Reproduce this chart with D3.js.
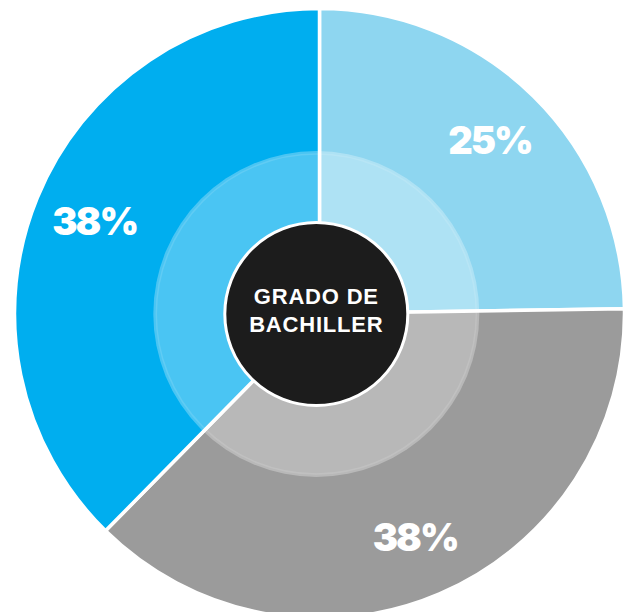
<!DOCTYPE html>
<html>
<head>
<meta charset="utf-8">
<script src="https://cdn.jsdelivr.net/npm/d3@7"></script>
<style>
  html, body { margin: 0; padding: 0; background: #ffffff; }
  svg { display: block; }
</style>
</head>
<body>
<svg id="chart" width="627" height="612"></svg>
<script>
const categories = ["Segmento A", "Segmento B", "Segmento C"];
const values = [25, 38, 38];
const labels = ["25%", "38%", "38%"];
const colors = ["#8ed6f0", "#9b9b9b", "#00aeef"];
const centerTitle = ["GRADO DE", "BACHILLER"];

const svg = d3.select("#chart");
const cx = 319.5, cy = 313.5;
const outerR = 305;

const g = svg.append("g").attr("transform", `translate(${cx},${cy})`);

const pie = d3.pie().sort(null).value(d => d.value);
const data = pie(categories.map((c, i) => ({ name: c, value: values[i], label: labels[i], color: colors[i] })));

const arc = d3.arc().innerRadius(0).outerRadius(outerR);
const labelArc = d3.arc().innerRadius(243).outerRadius(243);

g.selectAll("path.slice")
  .data(data)
  .join("path")
  .attr("class", "slice")
  .attr("d", arc)
  .attr("fill", d => d.data.color)
  .attr("stroke", "#ffffff")
  .attr("stroke-width", 3.5)
  .attr("stroke-linejoin", "miter");

// translucent inner ring
const ox = 316.3 - cx, oy = 314 - cy;
g.append("circle")
  .attr("cx", ox).attr("cy", oy).attr("r", 163)
  .attr("fill", "#ffffff").attr("fill-opacity", 0.29);
g.append("circle")
  .attr("cx", ox).attr("cy", oy).attr("r", 160)
  .attr("fill", "none").attr("stroke", "#ffffff").attr("stroke-opacity", 0.12).attr("stroke-width", 1.5);

// black center
g.append("circle")
  .attr("cx", ox).attr("cy", oy).attr("r", 91.5)
  .attr("fill", "#1c1c1c")
  .attr("stroke", "#ffffff").attr("stroke-width", 3);

const title = g.append("text")
  .attr("x", ox).attr("y", oy)
  .attr("text-anchor", "middle")
  .attr("fill", "#ffffff")
  .attr("font-family", "'Liberation Sans', Arial, sans-serif")
  .attr("font-weight", 700)
  .attr("font-size", 22)
  .attr("letter-spacing", 0.8);
title.selectAll("tspan")
  .data(centerTitle)
  .join("tspan")
  .attr("x", ox)
  .attr("y", (d, i) => oy - 10.5 + i * 28)
  .text(d => d);

g.selectAll("text.pct")
  .data(data)
  .join("text")
  .attr("class", "pct")
  .attr("transform", d => `translate(${labelArc.centroid(d)})`)
  .attr("dy", "0.36em")
  .attr("text-anchor", "middle")
  .attr("fill", "#ffffff")
  .attr("font-family", "Inter, Lato, 'Liberation Sans', Arial, sans-serif")
  .attr("font-weight", 900)
  .attr("font-size", 38)
  .attr("letter-spacing", -2)
  .text(d => d.data.label);
</script>
</body>
</html>
